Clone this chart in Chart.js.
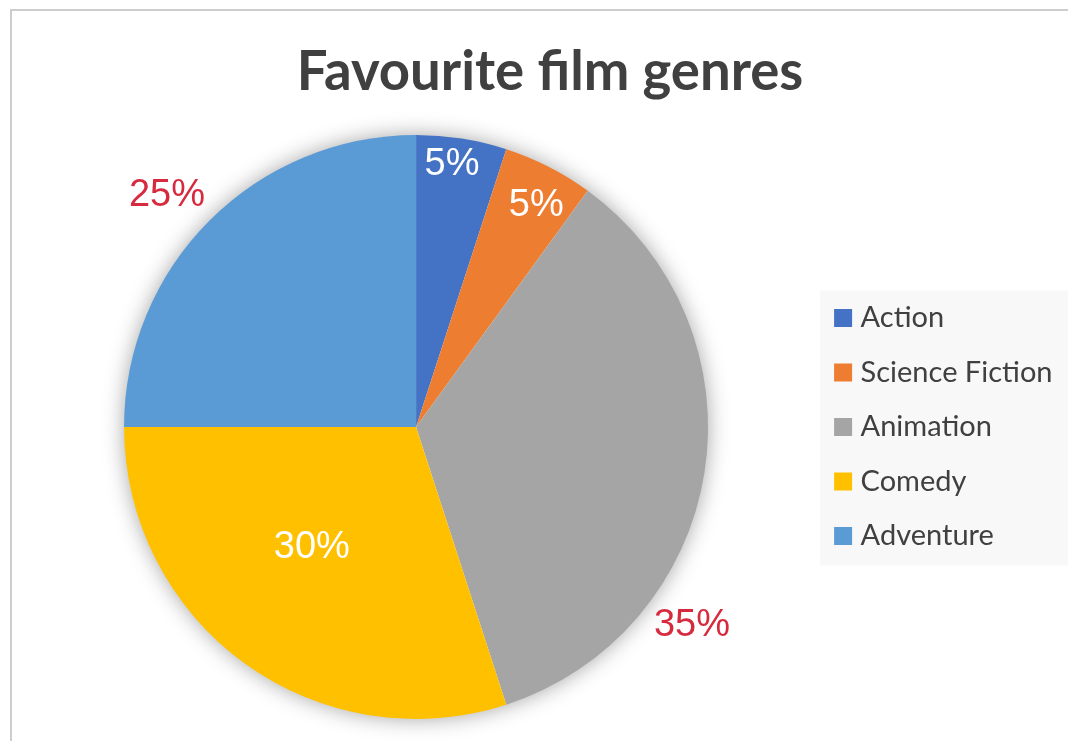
<!DOCTYPE html>
<html>
<head>
<meta charset="utf-8">
<title>Favourite film genres</title>
<script src="https://cdn.jsdelivr.net/npm/chart.js@4.4.1/dist/chart.umd.min.js"></script>
<style>
  html, body { margin: 0; padding: 0; background: #fff; }
  canvas { display: block; }
</style>
</head>
<body>
<canvas id="pie" width="1068" height="741"></canvas>
<script>
const heading = 'Favourite film genres'
const genres = ['Action', 'Science Fiction', 'Animation', 'Comedy', 'Adventure']
const shares = [5, 5, 35, 30, 25]
const sliceColors = ['#4472C4', '#ED7D31', '#A5A5A5', '#FFC000', '#5B9BD5']

// percentage label spots: fraction along the slice, fraction of the radius, colour
const labelSpots = [
  {along: 0.43, out: 0.915, color: '#ffffff'},
  {along: 0.57, out: 0.87, color: '#ffffff'},
  {along: 0.71, out: 1.16, color: '#D62B3F'},
  {along: 0.55, out: 0.54, color: '#ffffff'},
  {along: 0.48, out: 1.17, color: '#D62B3F'}
]

Chart.defaults.font.family = 'Lato, "Noto Sans", sans-serif'

// grey frame line, legend panel and the heading
const frame = {
  id: 'frame',
  beforeDraw(chart) {
    const ctx = chart.ctx
    ctx.save()
    ctx.fillStyle = '#cdcdcd'
    ctx.fillRect(10, 9, chart.width - 10, 2)
    ctx.fillRect(10, 9, 2, chart.height - 9)

    const lg = chart.legend
    if (lg && lg.legendHitBoxes && lg.legendHitBoxes.length) {
      const boxes = lg.legendHitBoxes
      const first = boxes[0], last = boxes[boxes.length - 1]
      ctx.fillStyle = '#f8f8f8'
      const top = first.top - 13
      ctx.fillRect(first.left - 20, top, chart.width, last.top + last.height + 15 - top)
    }

    // heading sits over the whole card, not just the pie
    ctx.fillStyle = '#404040'
    ctx.font = 'bold 54.5px Lato, "Noto Sans", sans-serif'
    ctx.textAlign = 'center'
    ctx.textBaseline = 'alphabetic'
    ctx.fillText(heading, 550, 90)
    ctx.restore()
  }
}

// soft shadow round the whole pie
const glow = {
  id: 'glow',
  beforeDatasetsDraw(chart) {
    const arc = chart.getDatasetMeta(0).data[0]
    if (!arc) return
    const p = arc.getProps(['x', 'y', 'outerRadius'], true)
    const ctx = chart.ctx
    ctx.save()
    ctx.shadowColor = 'rgba(0,0,0,0.38)'
    ctx.shadowBlur = 22
    ctx.fillStyle = '#ffffff'
    ctx.beginPath()
    ctx.arc(p.x, p.y, p.outerRadius - 1, 0, Math.PI * 2)
    ctx.fill()
    ctx.restore()
  }
}

const pctLabels = {
  id: 'pctLabels',
  afterDatasetsDraw(chart) {
    const ctx = chart.ctx
    const values = chart.data.datasets[0].data
    ctx.save()
    ctx.font = '38px "Liberation Sans", Arial, sans-serif'
    ctx.textAlign = 'center'
    ctx.textBaseline = 'middle'
    chart.getDatasetMeta(0).data.forEach((arc, i) => {
      const p = arc.getProps(['x', 'y', 'startAngle', 'endAngle', 'outerRadius'], true)
      const spot = labelSpots[i]
      const a = p.startAngle + (p.endAngle - p.startAngle) * spot.along
      const r = p.outerRadius * spot.out
      ctx.fillStyle = spot.color
      ctx.fillText(values[i] + '%', p.x + Math.cos(a) * r, p.y + Math.sin(a) * r + 2)
    })
    ctx.restore()
  }
}

new Chart(document.getElementById('pie'), {
  type: 'pie',
  data: {
    labels: genres,
    datasets: [{
      data: shares,
      backgroundColor: sliceColors,
      borderWidth: 0
    }]
  },
  options: {
    responsive: false,
    animation: false,
    events: [],
    layout: { padding: { left: 17.5, right: 5.5, top: 135, bottom: 22 } },
    plugins: {
      title: { display: false },
      legend: {
        position: 'right',
        labels: {
          usePointStyle: true,
          pointStyle: 'rect',
          boxWidth: 6,
          boxHeight: 18,
          padding: 25.5,
          color: '#404040',
          font: { size: 29 }
        }
      },
      tooltip: { enabled: false }
    }
  },
  plugins: [frame, glow, pctLabels]
})
</script>
</body>
</html>
